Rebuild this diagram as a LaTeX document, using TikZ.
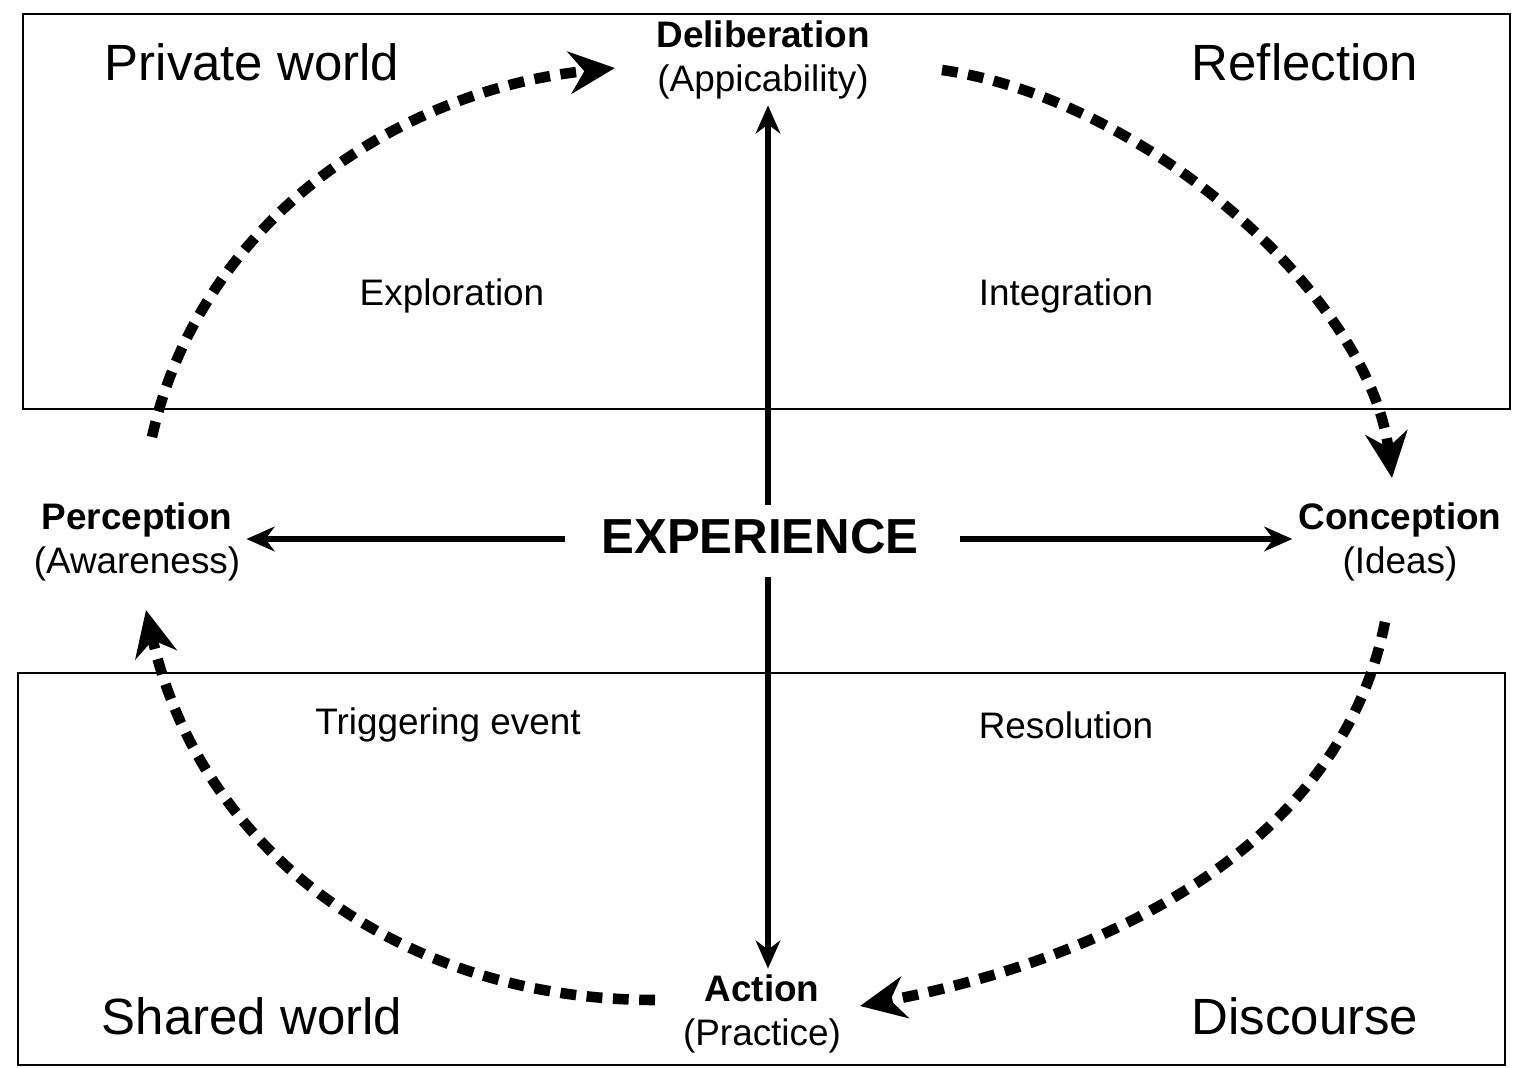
\documentclass[tikz,border=0pt]{standalone}
\usepackage{fontspec}
\setmainfont{Liberation Sans}
\usetikzlibrary{arrows.meta}
\begin{document}
\begin{tikzpicture}[x=0.02cm,y=-0.02cm,
 box/.style={draw,line width=1.5pt},
 solid arr/.style={line width=3pt,-{Stealth[length=16pt,width=14pt]}},
 dash arr/.style={line width=6pt,dash pattern=on 9pt off 6pt,-{Stealth[length=26pt,width=24pt]}},
 big/.style={font=\fontsize{29}{31}\selectfont},
 mid/.style={font=\fontsize{21}{24}\selectfont},
 nd/.style={align=center,font=\fontsize{21}{25}\selectfont}]
\useasboundingbox (0,0) rectangle (1522,1068);
\draw[box] (23,14) rectangle (1510,409);
\draw[box] (18,673) rectangle (1505,1065);
\node[big] (pw) at (252,62) {Private world};
\node[big] (rf) at (1305,62) {Reflection};
\node[big] (sw) at (252,1016) {Shared world};
\node[big] (dc) at (1305,1016) {Discourse};
\node[mid] (ex) at (452,296) {Exploration};
\node[mid] (ig) at (1066,296) {Integration};
\node[mid] (te) at (448,725) {Triggering event};
\node[mid] (rs) at (1066,725) {Resolution};
\node[nd] (del) at (763,60) {\textbf{Deliberation}\\(Appicability)};
\node[nd] (per) at (137,542) {\textbf{Perception}\\(Awareness)};
\node[nd] (con) at (1400,542) {\textbf{Conception}\\(Ideas)};
\node[nd] (act) at (762,1014) {\textbf{Action}\\(Practice)};
\node[font=\fontsize{28}{30}\selectfont\bfseries] (exp) at (760,537) {EXPERIENCE};
\coordinate (vt) at (768,505); \coordinate (vb) at (768,577);
\coordinate (hl) at (565,539); \coordinate (hr) at (960,539);
\draw[solid arr] (vt) -- (del.south -| vt);
\draw[solid arr] (vb) -- (act.north -| vb);
\draw[solid arr] (hl) -- (per.east |- hl);
\draw[solid arr] (hr) -- (con.west |- hr);
\coordinate (a1) at (152,437); \coordinate (a2) at (615,68);
\coordinate (b1) at (942,70); \coordinate (b2) at (1392,478);
\coordinate (c1) at (1385,622); \coordinate (c2) at (860,1006);
\coordinate (d1) at (655,1000); \coordinate (d2) at (146,610);
\draw[dash arr] (a1) .. controls (200,220) and (400,90) .. (a2);
\draw[dash arr] (b1) .. controls (1150,100) and (1370,300) .. (b2);
\draw[dash arr] (c1) .. controls (1340,850) and (1100,960) .. (c2);
\draw[dash arr] (d1) .. controls (400,1000) and (200,850) .. (d2);
\end{tikzpicture}
\end{document}
